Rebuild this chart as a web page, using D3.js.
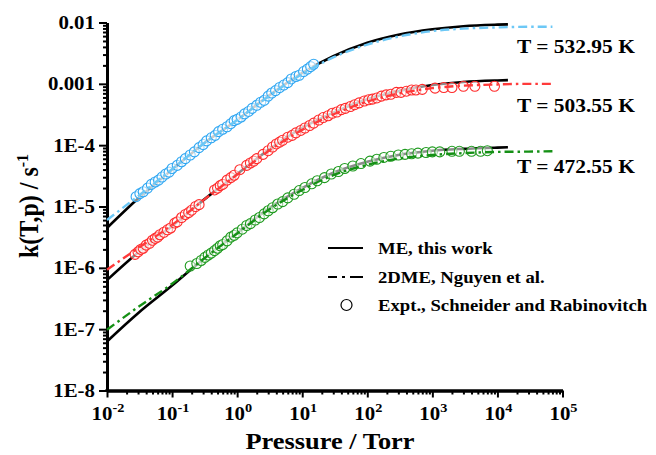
<!DOCTYPE html>
<html><head><meta charset="utf-8">
<script src="https://cdn.jsdelivr.net/npm/d3@7"></script>
<style>
body{margin:0;background:#fff;}
svg{display:block;}
text{font-family:"Liberation Serif","Times New Roman",serif;font-weight:bold;fill:#000;}
</style>
</head><body><svg id="c" width="656" height="455"></svg>
<script>
// ---------- data (log10 of k) ----------
const temperatureLabels = ["T = 532.95 K", "T = 503.55 K", "T = 472.55 K"];
const seriesColors = ["#2ea6f2", "#ff2a2a", "#1e9a1e"];
const dashColors = ["#6cc8f6", "#ff3a3a", "#159015"];

const xTickValues = [1e-2, 1e-1, 1e0, 1e1, 1e2, 1e3, 1e4, 1e5];
const xTickExponents = ["-2", "-1", "0", "1", "2", "3", "4", "5"];
const yTickValues = [1e-8, 1e-7, 1e-6, 1e-5, 1e-4, 1e-3, 1e-2];
const yTickLabels = ["1E-8", "1E-7", "1E-6", "1E-5", "1E-4", "0.001", "0.01"];

// ME, this work (solid black)
const mePressure = [0.01, 0.03, 0.1, 0.3, 1, 3, 10, 30, 100, 300, 1000, 3000, 10000, 14500];
const meLogK532 = [-5.35, -4.87, -4.40, -3.98, -3.59, -3.20, -2.82, -2.55, -2.33, -2.20, -2.11, -2.06, -2.035, -2.03];
const meLogK503 = [-6.20, -5.75, -5.32, -4.90, -4.47, -4.08, -3.72, -3.47, -3.25, -3.12, -3.02, -2.97, -2.945, -2.94];
const meLogK472 = [-7.20, -6.74, -6.29, -5.86, -5.43, -5.04, -4.70, -4.45, -4.27, -4.16, -4.09, -4.06, -4.04, -4.035];

// 2DME, Nguyen et al. (dash-dot, coloured)
const dmePressure = [0.01, 0.03, 0.1, 0.3, 1, 3, 10, 30, 100, 300, 1000, 3000, 10000, 30000, 70000];
const dmeLogK532 = [-5.22, -4.83, -4.39, -3.98, -3.59, -3.21, -2.84, -2.57, -2.36, -2.23, -2.14, -2.10, -2.08, -2.07, -2.07];
const dmeLogK503 = [-6.03, -5.68, -5.30, -4.90, -4.48, -4.10, -3.75, -3.50, -3.29, -3.16, -3.07, -3.03, -3.01, -3.00, -3.00];
const dmeLogK472 = [-7.01, -6.64, -6.26, -5.86, -5.44, -5.06, -4.73, -4.49, -4.32, -4.22, -4.16, -4.13, -4.11, -4.105, -4.10];

// Expt., Schneider and Rabinovitch (open circles)
const exptP532 = [0.028, 0.032, 0.036, 0.042, 0.048, 0.055, 0.062, 0.07, 0.08, 0.09, 0.1, 0.12, 0.14, 0.16, 0.19, 0.22, 0.26, 0.3, 0.34, 0.4, 0.46, 0.52, 0.6, 0.7, 0.8, 0.9, 1.0, 1.15, 1.3, 1.5, 1.7, 2.0, 2.3, 2.6, 3.0, 3.4, 3.9, 4.5, 5.2, 6.0, 6.8, 8.0, 9.0, 10.5, 12, 13.5, 15];
const exptLogK532 = [-4.84, -4.79, -4.76, -4.70, -4.64, -4.60, -4.57, -4.52, -4.47, -4.44, -4.38, -4.33, -4.27, -4.22, -4.16, -4.11, -4.04, -3.99, -3.93, -3.88, -3.84, -3.78, -3.74, -3.70, -3.65, -3.60, -3.58, -3.54, -3.49, -3.45, -3.40, -3.35, -3.30, -3.27, -3.20, -3.15, -3.11, -3.06, -3.02, -2.98, -2.92, -2.88, -2.86, -2.80, -2.76, -2.72, -2.68];

const exptP503 = [0.027, 0.03, 0.033, 0.036, 0.04, 0.045, 0.05, 0.055, 0.06, 0.065, 0.075, 0.085, 0.095, 0.11, 0.12, 0.14, 0.16, 0.18, 0.2, 0.23, 0.26, 0.45, 0.5, 0.55, 0.6, 0.7, 0.8, 0.9, 1.1, 1.4, 1.6, 1.8, 2.0, 2.5, 3.0, 3.5, 4.0, 4.5, 5.0, 6.0, 7.0, 8.0, 9.5, 11, 13, 15, 18, 21, 25, 29, 34, 40, 46, 55, 64, 75, 90, 105, 120, 140, 165, 195, 230, 280, 330, 400, 480, 560, 700, 1100, 1500, 2000, 3000, 4500, 9000];
const exptLogK503 = [-5.78, -5.74, -5.70, -5.68, -5.63, -5.60, -5.55, -5.52, -5.50, -5.46, -5.42, -5.38, -5.35, -5.27, -5.25, -5.18, -5.13, -5.10, -5.06, -5.00, -4.97, -4.73, -4.70, -4.66, -4.64, -4.57, -4.53, -4.49, -4.40, -4.33, -4.29, -4.26, -4.22, -4.15, -4.09, -4.03, -3.98, -3.95, -3.92, -3.87, -3.84, -3.80, -3.76, -3.72, -3.68, -3.64, -3.59, -3.55, -3.52, -3.48, -3.46, -3.42, -3.40, -3.37, -3.34, -3.31, -3.28, -3.26, -3.25, -3.23, -3.20, -3.18, -3.17, -3.14, -3.14, -3.12, -3.10, -3.10, -3.09, -3.07, -3.06, -3.06, -3.04, -3.04, -3.04];

const exptP472 = [0.19, 0.24, 0.28, 0.32, 0.36, 0.4, 0.45, 0.5, 0.55, 0.6, 0.7, 0.8, 0.9, 1.0, 1.2, 1.4, 1.6, 1.9, 2.2, 2.6, 3.0, 3.5, 4.2, 5, 6, 7.5, 9, 11, 14, 17, 22, 28, 36, 45, 60, 80, 110, 140, 180, 230, 300, 380, 480, 600, 800, 1000, 1300, 2000, 2600, 4000, 5500, 7000];
const exptLogK472 = [-5.97, -5.93, -5.88, -5.83, -5.79, -5.76, -5.72, -5.68, -5.64, -5.62, -5.56, -5.50, -5.47, -5.43, -5.37, -5.31, -5.28, -5.22, -5.18, -5.12, -5.07, -5.02, -4.96, -4.92, -4.86, -4.80, -4.74, -4.69, -4.63, -4.58, -4.53, -4.47, -4.43, -4.38, -4.34, -4.30, -4.26, -4.23, -4.20, -4.18, -4.16, -4.15, -4.14, -4.13, -4.12, -4.11, -4.11, -4.10, -4.10, -4.10, -4.10, -4.09];

const legendLabels = ["ME, this work", "2DME, Nguyen et al.", "Expt., Schneider and Rabinovitch"];

// ---------- drawing ----------
const svg = d3.select("#c");
const SX = 1.1; // horizontal text stretch of the original
const x = d3.scaleLog().domain([1e-2, 1e5]).range([107, 562.5]);
const y = d3.scaleLog().domain([1e-8, 1e-2]).range([390.5, 22.5]);

function pts(P, L) { return P.map((p, i) => [p, Math.pow(10, L[i])]); }
const line = d3.line().x(d => x(d[0])).y(d => y(d[1])).curve(d3.curveMonotoneX);

const me = [pts(mePressure, meLogK532), pts(mePressure, meLogK503), pts(mePressure, meLogK472)];
const dme = [pts(dmePressure, dmeLogK532), pts(dmePressure, dmeLogK503), pts(dmePressure, dmeLogK472)];
const expt = [pts(exptP532, exptLogK532), pts(exptP503, exptLogK503), pts(exptP472, exptLogK472)];

// minor ticks
function minors(lo, hi) {
  const out = [];
  for (let e = lo; e < hi; e++) for (let m = 2; m <= 9; m++) out.push(m * Math.pow(10, e));
  return out;
}
const gx = svg.append("g").attr("transform", "translate(0,390.5)");
gx.call(d3.axisBottom(x).tickValues(minors(-2, 5)).tickSize(4).tickSizeOuter(0).tickFormat(""));
gx.append("g").call(d3.axisBottom(x).tickValues(xTickValues).tickSize(7).tickSizeOuter(0).tickFormat(""));
gx.selectAll("line").attr("stroke", "#000").attr("stroke-width", 2);
gx.selectAll(".domain").attr("stroke", "#000").attr("stroke-width", 3);

const gy = svg.append("g").attr("transform", "translate(107,0)");
gy.call(d3.axisLeft(y).tickValues(minors(-8, -2)).tickSize(4).tickSizeOuter(0).tickFormat(""));
gy.append("g").call(d3.axisLeft(y).tickValues(yTickValues).tickSize(8).tickSizeOuter(0).tickFormat(""));
gy.selectAll("line").attr("stroke", "#000").attr("stroke-width", 2);
gy.selectAll(".domain").attr("stroke", "#000").attr("stroke-width", 3);
svg.append("rect").attr("x", 105.5).attr("y", 389).attr("width", 3).attr("height", 3).attr("fill", "#000");

// tick labels
yTickValues.forEach((v, i) => {
  svg.append("g").attr("transform", `translate(95,${y(v) + 6.5}) scale(${SX},1)`)
    .append("text").attr("text-anchor", "end").attr("font-size", 19).text(yTickLabels[i]);
});
xTickValues.forEach((v, i) => {
  const t = svg.append("g").attr("transform", `translate(${x(v) + 1},420) scale(${SX},1)`)
    .append("text").attr("text-anchor", "middle").attr("font-size", 19);
  t.append("tspan").text("10");
  t.append("tspan").attr("dy", -8).attr("font-size", 13).text(xTickExponents[i]);
});

// axis titles
svg.append("g").attr("transform", `translate(330,449) scale(${SX},1)`)
  .append("text").attr("text-anchor", "middle").attr("font-size", 24).text("Pressure / Torr");
const yt = svg.append("g").attr("transform", `translate(38,206) scale(${SX},1) rotate(-90)`)
  .append("text").attr("text-anchor", "middle").attr("font-size", 24);
yt.append("tspan").text("k(T,p) / s");
yt.append("tspan").attr("dy", -9).attr("font-size", 16).text("-1");

// curves
const plot = svg.append("g");
me.forEach(d => plot.append("path").attr("d", line(d)).attr("fill", "none")
  .attr("stroke", "#000").attr("stroke-width", 2.6));
expt.forEach((d, i) => plot.append("g").selectAll("circle").data(d).join("circle")
  .attr("cx", p => x(p[0])).attr("cy", p => y(p[1])).attr("r", 5)
  .attr("fill", "#fff").attr("fill-opacity", 0.55)
  .attr("stroke", seriesColors[i]).attr("stroke-width", 1.1));
dme.forEach((d, i) => plot.append("path").attr("d", line(d)).attr("fill", "none")
  .attr("stroke", dashColors[i]).attr("stroke-width", 2.4)
  .attr("stroke-dasharray", "9,4,2.5,4"));

// temperature labels
const tY = [53, 111.5, 173];
temperatureLabels.forEach((s, i) => {
  svg.append("g").attr("transform", `translate(517,${tY[i]}) scale(${SX},1)`)
    .append("text").attr("font-size", 19.5).text(s);
});

// legend
const lg = svg.append("g");
lg.append("line").attr("x1", 328).attr("x2", 363).attr("y1", 248).attr("y2", 248)
  .attr("stroke", "#000").attr("stroke-width", 2);
lg.append("line").attr("x1", 328).attr("x2", 363).attr("y1", 277).attr("y2", 277)
  .attr("stroke", "#000").attr("stroke-width", 2).attr("stroke-dasharray", "9,5,3,5,13");
lg.append("circle").attr("cx", 346.5).attr("cy", 305).attr("r", 5.5)
  .attr("fill", "none").attr("stroke", "#000").attr("stroke-width", 1.2);
[254, 283, 311].forEach((yy, i) => {
  lg.append("g").attr("transform", `translate(378,${yy}) scale(${SX},1)`)
    .append("text").attr("font-size", 17).text(legendLabels[i]);
});
</script>
</body></html>
